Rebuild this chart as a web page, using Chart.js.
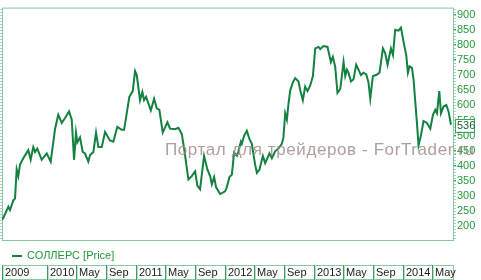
<!DOCTYPE html>
<html>
<head>
<meta charset="utf-8">
<script src="https://cdn.jsdelivr.net/npm/chart.js@4/dist/chart.umd.min.js"></script>
<style>
  html, body { margin: 0; padding: 0; background: #fff; }
  canvas { display: block; }
</style>
</head>
<body>
<canvas id="myChart" width="481" height="280"></canvas>
<script>
// time as decimal years, price in roubles
var times = [
  2009.498, 2009.512, 2009.569, 2009.588, 2009.625, 2009.644, 2009.663, 2009.681, 2009.700, 2009.737,
  2009.793, 2009.820, 2009.849, 2009.869, 2009.894, 2009.944, 2010.000, 2010.045, 2010.093, 2010.130,
  2010.169, 2010.206, 2010.251, 2010.281, 2010.307, 2010.329, 2010.344, 2010.374, 2010.404, 2010.430,
  2010.467, 2010.487, 2010.524, 2010.554, 2010.580, 2010.618, 2010.655, 2010.711, 2010.748, 2010.793,
  2010.843, 2010.869, 2010.899, 2010.928, 2010.966, 2010.992, 2011.011, 2011.048, 2011.074, 2011.093,
  2011.116, 2011.169, 2011.206, 2011.236, 2011.265, 2011.303, 2011.355, 2011.385, 2011.442, 2011.479,
  2011.517, 2011.543, 2011.573, 2011.591, 2011.629, 2011.666, 2011.692, 2011.722, 2011.767, 2011.804,
  2011.835, 2011.854, 2011.880, 2011.902, 2011.947, 2012.003, 2012.022, 2012.052, 2012.079, 2012.104,
  2012.135, 2012.153, 2012.180, 2012.191, 2012.217, 2012.247, 2012.276, 2012.303, 2012.340, 2012.360,
  2012.389, 2012.427, 2012.453, 2012.501, 2012.528, 2012.565, 2012.602, 2012.640, 2012.658, 2012.678,
  2012.697, 2012.715, 2012.734, 2012.764, 2012.790, 2012.827, 2012.846, 2012.876, 2012.902, 2012.928,
  2012.958, 2012.989, 2013.015, 2013.052, 2013.071, 2013.108, 2013.153, 2013.191, 2013.213, 2013.239,
  2013.265, 2013.296, 2013.333, 2013.352, 2013.371, 2013.389, 2013.416, 2013.445, 2013.475, 2013.501,
  2013.528, 2013.557, 2013.588, 2013.613, 2013.633, 2013.663, 2013.700, 2013.737, 2013.775, 2013.801,
  2013.827, 2013.865, 2013.888, 2013.913, 2013.951, 2013.978, 2014.007, 2014.037, 2014.056, 2014.074,
  2014.101, 2014.119, 2014.157, 2014.175, 2014.202, 2014.231, 2014.270, 2014.307, 2014.337, 2014.363,
  2014.382, 2014.408, 2014.427, 2014.456, 2014.487, 2014.512, 2014.539
];
var prices = [
  222, 228, 265, 254, 286, 292, 388, 366, 404, 425,
  452, 420, 462, 446, 457, 420, 441, 414, 521, 569,
  542, 558, 580, 553, 420, 510, 478, 494, 446, 441,
  414, 436, 446, 510, 462, 462, 512, 484, 480, 529,
  519, 519, 574, 628, 647, 713, 700, 617, 644, 617,
  628, 583, 622, 590, 585, 510, 544, 523, 521, 526,
  505, 457, 393, 355, 366, 382, 334, 323, 433, 388,
  366, 339, 363, 329, 307, 316, 329, 363, 371, 444,
  433, 448, 480, 473, 500, 516, 489, 473, 404, 377,
  388, 433, 409, 441, 425, 448, 457, 473, 494, 574,
  553, 606, 649, 676, 690, 679, 651, 617, 662, 647,
  665, 697, 788, 793, 786, 796, 793, 743, 760, 728,
  641, 654, 743, 697, 718, 708, 679, 686, 734, 718,
  700, 708, 702, 676, 622, 697, 700, 708, 788, 772,
  734, 788, 766, 850, 847, 857, 809, 766, 708, 729,
  724, 686, 542, 468, 500, 548, 542, 523, 569, 585,
  574, 647, 574, 596, 601, 580, 536
];
var seriesName = 'СОЛЛЕРС [Price]';
var lastPrice = '536';

var xMin = 2009.498, xMax = 2014.562;
var tickLabels = ['2009', '2010', 'May', 'Sep', '2011', 'May', 'Sep', '2012', 'May', 'Sep', '2013', 'May', 'Sep', '2014', 'May'];
var tickTimes = [2009.498, 2010, 2010.33, 2010.666, 2011, 2011.33, 2011.666, 2012, 2012.33, 2012.666, 2013, 2013.33, 2013.666, 2014, 2014.33];
var yTicks = [200, 250, 300, 350, 400, 450, 500, 550, 600, 650, 700, 750, 800, 850, 900];

var frameColor = '#86c9a2';
var labelGreen = '#23993a';
var lineGreen = '#13813f';

var points = times.map(function(t, i) { return { x: t, y: prices[i] }; });

var decorations = {
    id: 'decorations',
    beforeDatasetsDraw: function(chart) {
        var c = chart.ctx, a = chart.chartArea, y = chart.scales.y;
        c.save();
        // minor ticks on both edges
        c.strokeStyle = '#a5d8b8';
        c.lineWidth = 1;
        for (var v = 160; v <= 920; v += 10) {
            var py = Math.round(y.getPixelForValue(v)) + 0.5;
            c.beginPath();
            c.moveTo(0, py); c.lineTo(a.left, py);
            c.moveTo(a.right, py); c.lineTo(a.right + 3, py);
            c.stroke();
        }
        // frame
        c.strokeStyle = frameColor;
        c.strokeRect(a.left + 0.5, a.top + 0.5, a.right - a.left, a.bottom - a.top);
        c.restore();
    },
    afterDraw: function(chart) {
        var c = chart.ctx, a = chart.chartArea, x = chart.scales.x, y = chart.scales.y;
        c.save();

        // legend
        c.strokeStyle = lineGreen;
        c.lineWidth = 2;
        c.beginPath();
        c.moveTo(12, 256); c.lineTo(22, 256);
        c.stroke();
        c.fillStyle = labelGreen;
        c.font = '11px "Liberation Sans", Arial, sans-serif';
        c.textBaseline = 'middle';
        c.fillText(seriesName, 27, 256);

        // date strip
        var top = 265, bot = 279;
        c.lineWidth = 1;
        c.strokeStyle = frameColor;
        c.strokeRect(a.left + 0.5, top + 0.5, a.right - a.left, bot - top);
        c.fillStyle = '#1b1b1b';
        c.textBaseline = 'alphabetic';
        tickTimes.forEach(function(t, i) {
            var px = Math.round(x.getPixelForValue(t));
            c.strokeStyle = '#3c9f5e';
            c.beginPath(); c.moveTo(px + 0.5, top); c.lineTo(px + 0.5, bot + 1); c.stroke();
            c.strokeStyle = '#b5e0c4';
            c.beginPath(); c.moveTo(px + 1.5, top); c.lineTo(px + 1.5, bot + 1); c.stroke();
            c.fillText(tickLabels[i], px + 3, 276);
        });

        // last value box
        var ly = y.getPixelForValue(prices[prices.length - 1]);
        c.fillStyle = '#fff';
        c.fillRect(455, ly - 6, 19, 13);
        c.strokeStyle = '#3c9f5e';
        c.strokeRect(455.5, Math.round(ly - 6) + 0.5, 19, 13);
        c.fillStyle = '#0f5f2c';
        c.textBaseline = 'middle';
        c.fillText(lastPrice, 457, ly + 1);

        // watermark
        c.fillStyle = 'rgba(160, 142, 140, 0.85)';
        c.font = '17px "Liberation Sans", Arial, sans-serif';
        c.letterSpacing = '0.6px';
        c.textBaseline = 'alphabetic';
        c.fillText('Портал для трейдеров - ForTrader.ru', 165, 155);
        c.restore();
    }
};

var ctx = document.getElementById('myChart').getContext('2d');
var myChart = new Chart(ctx, {
    type: 'line',
    data: {
        datasets: [{
            label: seriesName,
            data: points,
            borderColor: lineGreen,
            borderWidth: 2,
            pointRadius: 0,
            tension: 0,
            fill: false
        }]
    },
    options: {
        responsive: false,
        animation: false,
        layout: { padding: { left: 2, top: 1, right: 0, bottom: 40 } },
        plugins: { legend: { display: false }, tooltip: { enabled: false } },
        scales: {
            x: { type: 'linear', min: xMin, max: xMax, display: false },
            y: {
                position: 'right',
                min: 155,
                max: 923,
                afterBuildTicks: function(scale) {
                    scale.ticks = yTicks.map(function(v) { return { value: v }; });
                },
                afterFit: function(scale) { scale.width = 28; },
                border: { display: false },
                grid: { drawOnChartArea: false, tickLength: 3, color: '#3c9f5e' },
                ticks: {
                    padding: 1,
                    color: labelGreen,
                    font: { family: '"Liberation Sans", Arial, sans-serif', size: 11 }
                }
            }
        }
    },
    plugins: [decorations]
});
</script>
</body>
</html>
